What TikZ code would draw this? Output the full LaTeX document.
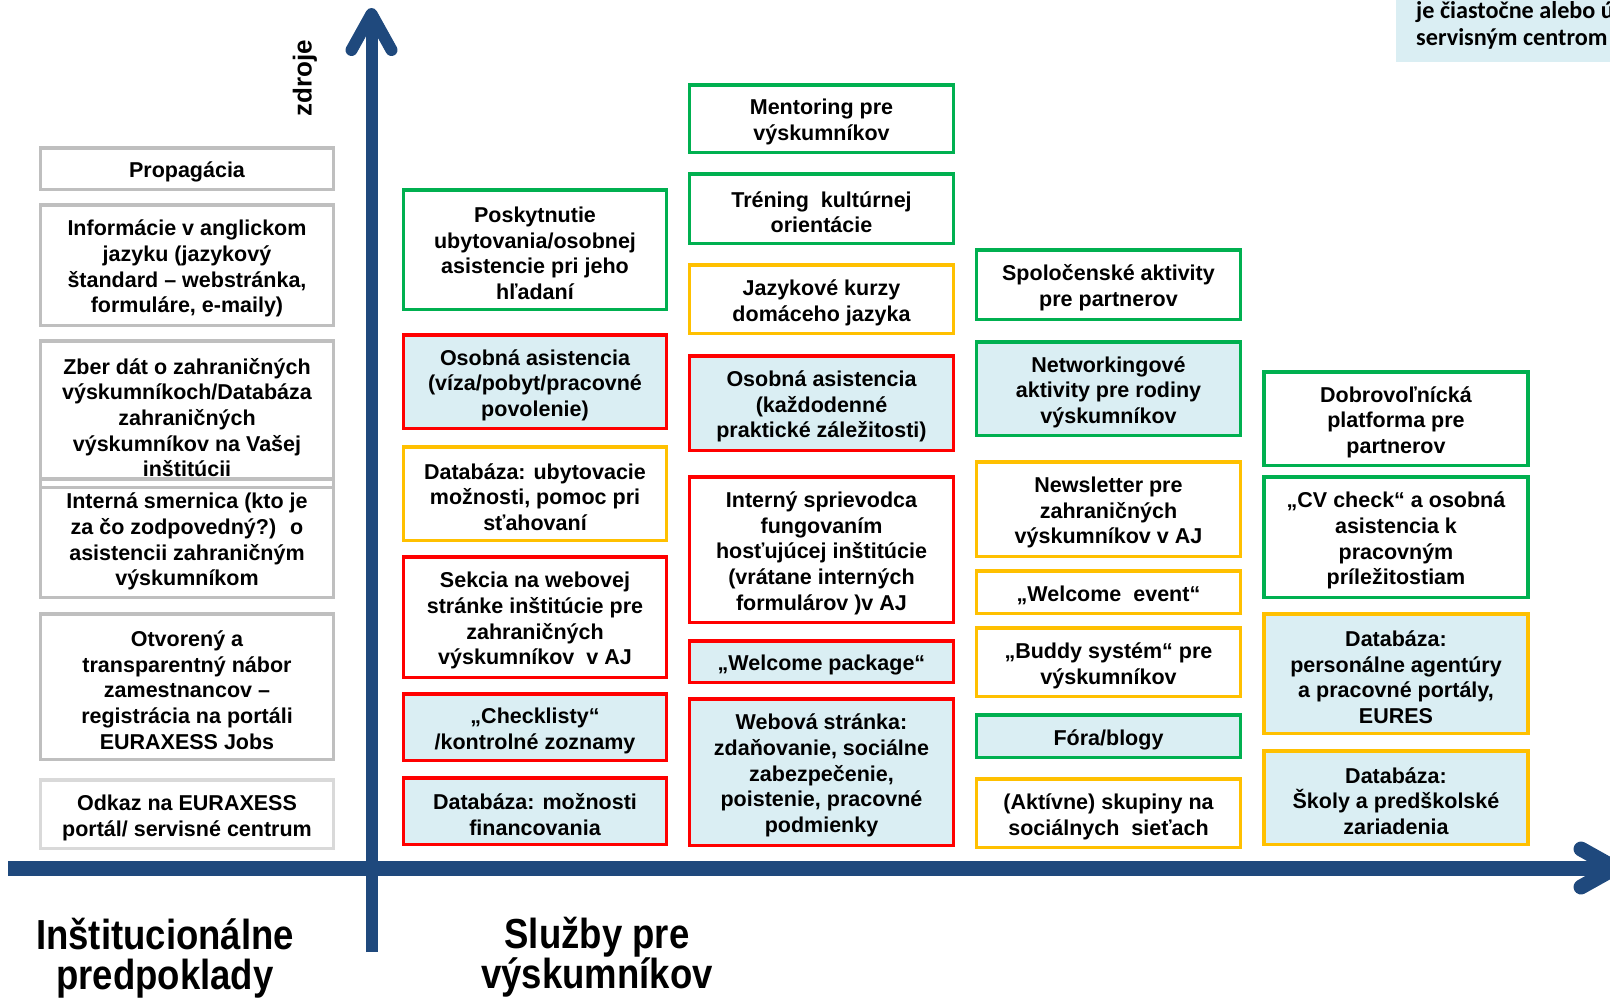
\documentclass[tikz,border=0pt]{standalone}
\usepackage{fontspec}
\setmainfont{Liberation Sans}
\newfontfamily\calfont{Carlito}
\newfontfamily\narrowfont{Liberation Sans}[FakeStretch=0.87]
\definecolor{cgrey}{RGB}{191,191,191}
\definecolor{clgrey}{RGB}{217,217,217}
\definecolor{cred}{RGB}{255,0,0}
\definecolor{cgreen}{RGB}{0,176,80}
\definecolor{cyellow}{RGB}{255,192,0}
\definecolor{clight}{RGB}{218,238,243}
\definecolor{caxis}{RGB}{31,73,125}
\newcommand\bxfont{\fontsize{21.5pt}{25.7pt}\selectfont\bfseries}
\newcommand\labfont{\narrowfont\bfseries\fontsize{42pt}{40pt}\selectfont}
\newcommand\ts{\rule{0pt}{23pt}}
\begin{document}
\begin{tikzpicture}[x=1pt,y=-1pt,
  bx/.style={draw, line width=3.5pt, inner sep=0pt, outer sep=0pt, align=center, font=\bxfont, fill=white},
  greybox/.style={bx, draw=cgrey},
  lgreybox/.style={bx, draw=clgrey},
  redbox/.style={bx, draw=cred},
  greenbox/.style={bx, draw=cgreen},
  yellowbox/.style={bx, draw=cyellow},
  lb/.style={fill=clight},
  ca/.style={minimum width=293pt},
  cb/.style={minimum width=263pt},
  cc/.style={minimum width=264pt},
  vax/.style={draw=caxis, line width=12pt},
  hax/.style={draw=caxis, line width=15pt},
  tip/.style={line cap=round, line join=round},
  lab/.style={anchor=base, inner sep=0pt, font=\labfont},
  note/.style={anchor=base west, inner sep=0pt, font=\calfont\bfseries\fontsize{24.2pt}{28pt}\selectfont}
]
\useasboundingbox (0,0) rectangle (1610,997);
\clip (0,0) rectangle (1610,997);

% axes
\coordinate (vb) at (371.5,952);
\coordinate (vt) at (371.5,14);
\coordinate (vs) at (371.5,22);
\draw[vax] (vb) -- (vs);
\draw[vax, tip] (vt) ++(-20,36) -- (vt) -- ++(20,36);
\coordinate (hl) at (8,868);
\coordinate (hr) at (1615,868);
\draw[hax] (hl) -- (hr);
\draw[hax, tip] (hr) ++(-34,-19) -- (hr) -- ++(-34,19);

\node[rotate=90, inner sep=0pt, font=\fontsize{26pt}{30pt}\selectfont\bfseries] (zdroje) at (305,78) {zdroje};

% top right note
\fill[clight] (1396,0) rectangle (1620,62);
\node[note] (tr1) at (1416,18) {je čiastočne alebo ú};
\node[note] (tr2) at (1416,45) {servisným centrom};

% column 1
\node[greybox, ca, minimum height=41.5pt] (prop) at (187,168.5) {\ts Propagácia};
\node[greybox, ca, minimum height=120.5pt] (info) at (187,265) {\ts Informácie v anglickom\\jazyku (jazykový\\štandard – webstránka,\\formuláre, e-maily)};
\node[greybox, ca, minimum height=146.5pt] (zber) at (187,414) {\ts Zber dát o zahraničných\\výskumníkoch/Databáza\\zahraničných\\výskumníkov na Vašej\\inštitúcii};
\node[greybox, ca, minimum height=118.5pt] (intern) at (187,538) {\ts Interná smernica (kto je\\za čo zodpovedný?)~ o\\asistencii zahraničným\\výskumníkom};
\draw[cgrey, line width=3.5pt] (zber.south west) -- (zber.south east);
\node[greybox, ca, minimum height=145.5pt] (otv) at (187,686.5) {\ts Otvorený a\\transparentný nábor\\zamestnancov –\\registrácia na portáli\\EURAXESS Jobs};
\node[lgreybox, ca, minimum height=68.5pt] (odkaz) at (187,814) {\ts Odkaz na EURAXESS\\portál/ servisné centrum};

% column 2
\node[greenbox, cb, minimum height=119.5pt] (posk) at (535,249.5) {\ts Poskytnutie\\ubytovania/osobnej\\asistencie pri jeho\\hľadaní};
\node[redbox, lb, cb, minimum height=93.5pt] (osob1) at (535,381.5) {\ts Osobná asistencia\\(víza/pobyt/pracovné\\povolenie)};
\node[yellowbox, cb, minimum height=93.5pt] (dbub) at (535,493.5) {\ts Databáza: ubytovacie\\možnosti, pomoc pri\\sťahovaní};
\node[redbox, cb, minimum height=120.5pt] (sekcia) at (535,617) {\ts Sekcia na webovej\\stránke inštitúcie pre\\zahraničných\\výskumníkov~ v AJ};
\node[redbox, lb, cb, minimum height=66.5pt] (check) at (535,727) {\ts „Checklisty“\\/kontrolné zoznamy};
\node[redbox, lb, cb, minimum height=66.5pt] (dbfin) at (535,811) {\ts Databáza: možnosti\\financovania};

% column 3
\node[greenbox, cc, minimum height=67.5pt] (ment) at (821.5,118.5) {\ts Mentoring pre\\výskumníkov};
\node[greenbox, cc, minimum height=69.5pt] (tren) at (821.5,208.5) {\ts Tréning~ kultúrnej\\orientácie};
\node[yellowbox, cc, minimum height=68.5pt] (jaz) at (821.5,299) {\ts Jazykové kurzy\\domáceho jazyka};
\node[redbox, lb, cc, minimum height=94.5pt] (osob2) at (821.5,403) {\ts Osobná asistencia\\(každodenné\\praktické záležitosti)};
\node[redbox, cc, minimum height=145.5pt] (intsp) at (821.5,549.5) {\ts Interný sprievodca\\fungovaním\\hosťujúcej inštitúcie\\(vrátane interných\\formulárov )v AJ};
\node[redbox, lb, cc, minimum height=41.5pt] (welp) at (821.5,661.5) {\ts „Welcome package“};
\node[redbox, lb, cc, minimum height=146.5pt] (web) at (821.5,772) {\ts Webová stránka:\\zdaňovanie, sociálne\\zabezpečenie,\\poistenie, pracovné\\podmienky};

% column 4
\node[greenbox, cc, minimum height=69.5pt] (spol) at (1108.5,284.5) {\ts Spoločenské aktivity\\pre partnerov};
\node[greenbox, lb, cc, minimum height=93.5pt] (netw) at (1108.5,388.5) {\ts Networkingové\\aktivity pre rodiny\\výskumníkov};
\node[yellowbox, cc, minimum height=94.5pt] (news) at (1108.5,509) {\ts Newsletter pre\\zahraničných\\výskumníkov v AJ};
\node[yellowbox, cc, minimum height=42.5pt] (wele) at (1108.5,592) {\ts „Welcome~ event“};
\node[yellowbox, cc, minimum height=68.5pt] (buddy) at (1108.5,662) {\ts „Buddy systém“ pre\\výskumníkov};
\node[greenbox, lb, cc, minimum height=42.5pt] (fora) at (1108.5,736) {\ts Fóra/blogy};
\node[yellowbox, cc, minimum height=68.5pt] (akt) at (1108.5,813) {\ts (Aktívne) skupiny na\\sociálnych~ sieťach};

% column 5
\node[greenbox, cc, minimum height=93.5pt] (dobr) at (1396,418.5) {\ts Dobrovoľnícká\\platforma pre\\partnerov};
\node[greenbox, cc, minimum height=120.5pt] (cv) at (1396,537) {\ts „CV check“ a osobná\\asistencia k\\pracovným\\príležitostiam};
\node[yellowbox, lb, cc, minimum height=119.5pt] (dbpers) at (1396,673.5) {\ts Databáza:\\personálne agentúry\\a pracovné portály,\\EURES};
\node[yellowbox, lb, cc, minimum height=93.5pt] (dbsk) at (1396,797.5) {\ts Databáza:\\Školy a predškolské\\zariadenia};

% bottom labels
\node[lab] (l1a) at (165,949) {Inštitucionálne};
\node[lab] (l1b) at (165,989) {predpoklady};
\node[lab] (l2a) at (597,948) {Služby pre};
\node[lab] (l2b) at (597,988) {výskumníkov};
\end{tikzpicture}
\end{document}
